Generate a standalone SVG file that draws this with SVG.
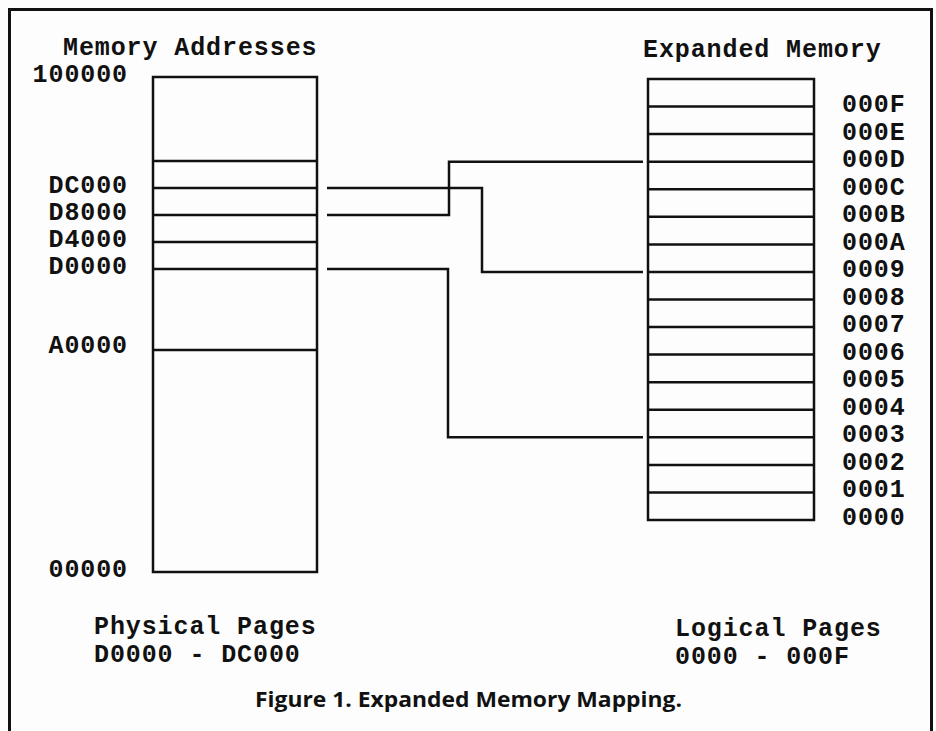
<svg xmlns="http://www.w3.org/2000/svg" width="936" height="731" viewBox="0 0 936 731">
<style>
.t{font-family:"Liberation Mono","DejaVu Sans Mono",monospace;font-weight:bold;font-size:25px;letter-spacing:0.9px;fill:#111}
.r{text-anchor:end}
.ln{stroke:#111;stroke-width:2.5;fill:none}
.bx{stroke:#111;stroke-width:2.5;fill:none}
.cap{font-family:"Open Sans","Liberation Sans",sans-serif;font-weight:bold;font-size:21px;fill:#111}
</style>
<rect width="936" height="731" fill="#fdfdfd"/>
<path d="M9.5,735 V9.5 H931.5 V735" fill="none" stroke="#111" stroke-width="3"/>

<g id="physical-memory">
<text class="t" x="63" y="55">Memory Addresses</text>
<rect class="bx" x="153" y="77" width="164" height="495"/>
<path class="ln" d="M153,161H317M153,188H317M153,215H317M153,242H317M153,269H317M153,350H317"/>
<text class="t r" x="128" y="82">100000</text>
<text class="t r" x="128" y="192.5">DC000</text>
<text class="t r" x="128" y="219.5">D8000</text>
<text class="t r" x="128" y="246.5">D4000</text>
<text class="t r" x="128" y="273.5">D0000</text>
<text class="t r" x="128" y="353">A0000</text>
<text class="t r" x="128" y="577">00000</text>
<text class="t" x="94" y="634">Physical Pages</text>
<text class="t" x="94" y="662">D0000 - DC000</text>
</g>

<g id="expanded-memory">
<text class="t" x="643" y="57">Expanded Memory</text>
<rect class="bx" x="648" y="79" width="166" height="441"/>
<path class="ln" d="M648,106.6H814M648,134.1H814M648,161.7H814M648,189.3H814M648,216.8H814M648,244.4H814M648,271.9H814M648,299.5H814M648,327.1H814M648,354.6H814M648,382.2H814M648,409.8H814M648,437.3H814M648,464.9H814M648,492.4H814"/>
<text class="t" x="842" y="112">000F</text>
<text class="t" x="842" y="139.5">000E</text>
<text class="t" x="842" y="167">000D</text>
<text class="t" x="842" y="194.5">000C</text>
<text class="t" x="842" y="222">000B</text>
<text class="t" x="842" y="249.5">000A</text>
<text class="t" x="842" y="277">0009</text>
<text class="t" x="842" y="304.5">0008</text>
<text class="t" x="842" y="332">0007</text>
<text class="t" x="842" y="359.5">0006</text>
<text class="t" x="842" y="387">0005</text>
<text class="t" x="842" y="414.5">0004</text>
<text class="t" x="842" y="442">0003</text>
<text class="t" x="842" y="469.5">0002</text>
<text class="t" x="842" y="497">0001</text>
<text class="t" x="842" y="524.5">0000</text>
<text class="t" x="675" y="635.5">Logical Pages</text>
<text class="t" x="675" y="663.5">0000 - 000F</text>
</g>

<g id="connectors">
<path class="ln" d="M327,215H449V161.7H643"/>
<path class="ln" d="M327,188H482V271.9H643"/>
<path class="ln" d="M327,269H448V437.3H643"/>
</g>

<text class="cap" x="255" y="707" textLength="427" lengthAdjust="spacingAndGlyphs">Figure 1. Expanded Memory Mapping.</text>
</svg>
